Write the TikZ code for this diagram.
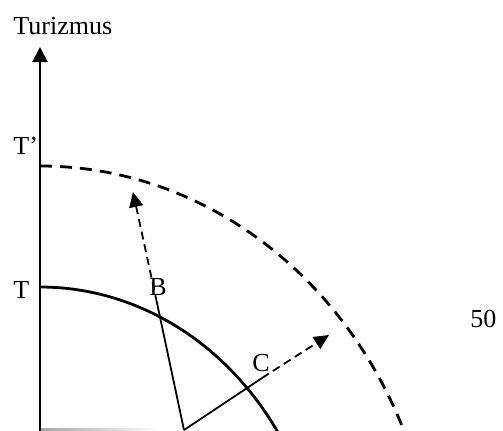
\documentclass[tikz,border=0pt]{standalone}
\usepackage{fontspec}
\setmainfont{Liberation Serif}
\usetikzlibrary{arrows.meta}

\begin{document}
\begin{tikzpicture}[
    x=0.5pt, y=0.5pt,
    axisline/.style={
        line width=1pt,
        -{Triangle[length=7.5pt,width=7.5pt]}
    },
    ppfold/.style={line width=1.4pt},
    ppfnew/.style={line width=1.4pt, dash pattern=on 6pt off 4pt},
    moveline/.style={line width=0.9pt},
    movearrow/.style={
        line width=0.9pt,
        dash pattern=on 4pt off 2.5pt,
        -{Triangle[length=7.5pt,width=7pt]}
    },
    lbl/.style={font=\fontsize{13}{15}\selectfont, inner sep=0pt}
]

\clip (0,0) rectangle (503,430);

% axis
\coordinate (O) at (40,-2);
\coordinate (ytip) at (40,383);
\shade[left color=gray!70, right color=white] (40,0) rectangle (160,1.5);
\draw [axisline] (O) -- (ytip);

\node (ylab) [lbl, anchor=base west] at (13,396) {Turizmus};
\node (labTp) [lbl, anchor=base west] at (13,276) {T’};
\node (labT) [lbl, anchor=base west] at (13,132) {T};

% curves
\coordinate (Ttop) at (40,143);
\coordinate (Tptop) at (40,264);
\draw [ppfold] (Ttop) arc[start angle=90, end angle=25, x radius=284, y radius=320];
\draw [ppfnew] (Tptop) arc[start angle=90, end angle=18, x radius=397, y radius=441];

% moves from the inner point
\coordinate (V) at (184,0);
\coordinate (Bmid) at (157,127);
\coordinate (Btip) at (133,238);
\coordinate (Cmid) at (262,52);
\coordinate (Ctip) at (329,95);

\draw [moveline] (V) -- (Bmid);
\draw [movearrow] (Bmid) -- (Btip);
\draw [moveline] (V) -- (Cmid);
\draw [movearrow] (Cmid) -- (Ctip);

\node (labB) [lbl, anchor=base] at (158,135) {B};
\node (labC) [lbl, anchor=base] at (261,59) {C};
\node (lab50) [lbl, anchor=base west] at (470,103) {50};

\end{tikzpicture}
\end{document}
